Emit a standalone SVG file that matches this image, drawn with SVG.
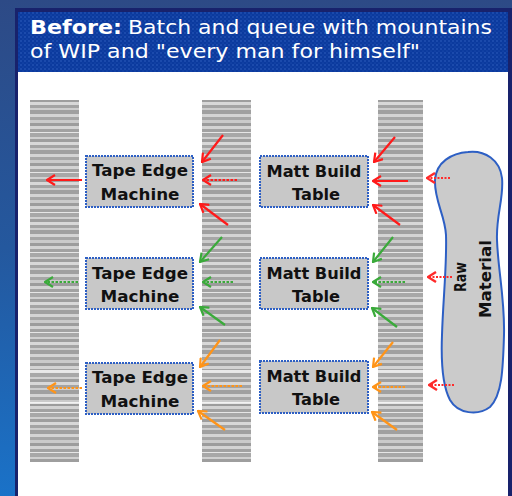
<svg xmlns="http://www.w3.org/2000/svg" width="512" height="496" viewBox="0 0 512 496">
<defs>
<linearGradient id="bg" x1="0" y1="0" x2="0" y2="1">
<stop offset="0" stop-color="#2d4a86"/>
<stop offset="0.5" stop-color="#24589e"/>
<stop offset="1" stop-color="#1a72c8"/>
</linearGradient>
<pattern id="dots" width="4" height="4" patternUnits="userSpaceOnUse">
<rect width="4" height="4" fill="#0b3a9e"/>
<circle cx="1" cy="1" r="0.7" fill="#3566c4"/>
<circle cx="3" cy="3" r="0.6" fill="#2452b4"/>
</pattern>
<pattern id="stripes" width="60" height="40" patternUnits="userSpaceOnUse">
<rect y="0" width="60" height="3" fill="#cacaca"/>
<rect y="3" width="60" height="3" fill="#9c9c9c"/>
<rect y="6" width="60" height="3" fill="#d3d3d3"/>
<rect y="9" width="60" height="3" fill="#a2a2a2"/>
<rect y="12" width="60" height="1" fill="#e6e6e6"/>
<rect y="13" width="60" height="4" fill="#a8a8a8"/>
<rect y="17" width="60" height="2" fill="#d0d0d0"/>
<rect y="19" width="60" height="3" fill="#9e9e9e"/>
<rect y="22" width="60" height="3" fill="#d8d8d8"/>
<rect y="25" width="60" height="3" fill="#a4a4a4"/>
<rect y="28" width="60" height="2" fill="#cdcdcd"/>
<rect y="30" width="60" height="4" fill="#a0a0a0"/>
<rect y="34" width="60" height="3" fill="#d4d4d4"/>
<rect y="37" width="60" height="3" fill="#a6a6a6"/>
</pattern>
<marker id="hr" viewBox="0 0 10 12" refX="9" refY="6" markerWidth="10" markerHeight="12" markerUnits="userSpaceOnUse" orient="auto">
<path d="M1,1 L9,6 L1,11" fill="none" stroke="#ff1a1a" stroke-width="2.2"/>
</marker>
<marker id="hg" viewBox="0 0 10 12" refX="9" refY="6" markerWidth="10" markerHeight="12" markerUnits="userSpaceOnUse" orient="auto">
<path d="M1,1 L9,6 L1,11" fill="none" stroke="#3aaa3a" stroke-width="2.2"/>
</marker>
<marker id="ho" viewBox="0 0 10 12" refX="9" refY="6" markerWidth="10" markerHeight="12" markerUnits="userSpaceOnUse" orient="auto">
<path d="M1,1 L9,6 L1,11" fill="none" stroke="#ff9418" stroke-width="2.2"/>
</marker>
<marker id="hrs" viewBox="0 0 10 12" refX="9" refY="6" markerWidth="10" markerHeight="12" markerUnits="userSpaceOnUse" orient="auto">
<path d="M1,1 L9,6 L1,11" fill="none" stroke="#ff2a2a" stroke-width="2.4"/>
</marker>
<style>
.stack{fill:url(#stripes);}
.gap{stroke:#ffffff;stroke-width:1.5;}
.box{fill:#c8c8c8;stroke:#2d5fc4;stroke-width:2;stroke-dasharray:2 1;}
.lbl{font-family:"DejaVu Sans",Verdana,sans-serif;font-weight:bold;font-size:16px;fill:#111111;text-anchor:middle;}
.hdr{font-family:"DejaVu Sans",Verdana,sans-serif;font-size:20px;fill:#ffffff;}
.r{stroke:#ff1a1a;stroke-width:2.2;fill:none;marker-end:url(#hr);}
.g{stroke:#3aaa3a;stroke-width:2.2;fill:none;marker-end:url(#hg);}
.o{stroke:#ff9418;stroke-width:2.2;fill:none;marker-end:url(#ho);}
.rs{stroke:#ff2a2a;stroke-width:2;fill:none;marker-end:url(#hrs);stroke-dasharray:2 1.5;}
.d{stroke-dasharray:2.5 1.5;}
</style>
</defs>

<rect x="0" y="0" width="512" height="496" fill="url(#bg)"/>
<rect x="15" y="8" width="497" height="488" fill="#18226c"/>
<rect x="18" y="12" width="490" height="60" fill="url(#dots)"/>
<rect x="18" y="72" width="490" height="424" fill="#ffffff"/>

<g id="header">
<text class="hdr" x="30" y="34" font-weight="bold" textLength="92" lengthAdjust="spacingAndGlyphs">Before:</text>
<text class="hdr" x="128" y="34" textLength="364" lengthAdjust="spacingAndGlyphs">Batch and queue with mountains</text>
<text class="hdr" x="30" y="58" textLength="390" lengthAdjust="spacingAndGlyphs">of WIP and "every man for himself"</text>
</g>

<g id="wip-stack-1">
<rect class="stack" x="30" y="100" width="49" height="362"/>
<line class="gap" x1="30" y1="371" x2="79" y2="371"/>
<line class="gap" x1="30" y1="403" x2="79" y2="403"/>
</g>
<g id="wip-stack-2">
<rect class="stack" x="202" y="100" width="49" height="362"/>
<line class="gap" x1="202" y1="371" x2="251" y2="371"/>
<line class="gap" x1="202" y1="403" x2="251" y2="403"/>
</g>
<g id="wip-stack-3">
<rect class="stack" x="378" y="100" width="45" height="362"/>
<line class="gap" x1="378" y1="371" x2="423" y2="371"/>
<line class="gap" x1="378" y1="403" x2="423" y2="403"/>
</g>

<g id="tape-edge-1">
<rect class="box" x="86" y="156" width="107" height="51"/>
<text class="lbl" x="140" y="176" textLength="96" lengthAdjust="spacingAndGlyphs">Tape Edge</text>
<text class="lbl" x="140" y="200" textLength="79" lengthAdjust="spacingAndGlyphs">Machine</text>
</g>
<g id="tape-edge-2">
<rect class="box" x="86" y="258" width="107" height="51"/>
<text class="lbl" x="140" y="279" textLength="96" lengthAdjust="spacingAndGlyphs">Tape Edge</text>
<text class="lbl" x="140" y="302" textLength="79" lengthAdjust="spacingAndGlyphs">Machine</text>
</g>
<g id="tape-edge-3">
<rect class="box" x="86" y="363" width="107" height="51"/>
<text class="lbl" x="140" y="383" textLength="96" lengthAdjust="spacingAndGlyphs">Tape Edge</text>
<text class="lbl" x="140" y="407" textLength="79" lengthAdjust="spacingAndGlyphs">Machine</text>
</g>

<g id="matt-build-1">
<rect class="box" x="260" y="156" width="108" height="51"/>
<text class="lbl" x="314" y="177" textLength="95" lengthAdjust="spacingAndGlyphs">Matt Build</text>
<text class="lbl" x="316" y="200" textLength="48" lengthAdjust="spacingAndGlyphs">Table</text>
</g>
<g id="matt-build-2">
<rect class="box" x="260" y="258" width="108" height="51"/>
<text class="lbl" x="314" y="279" textLength="95" lengthAdjust="spacingAndGlyphs">Matt Build</text>
<text class="lbl" x="316" y="302" textLength="48" lengthAdjust="spacingAndGlyphs">Table</text>
</g>
<g id="matt-build-3">
<rect class="box" x="260" y="361" width="108" height="52"/>
<text class="lbl" x="314" y="382" textLength="95" lengthAdjust="spacingAndGlyphs">Matt Build</text>
<text class="lbl" x="316" y="405" textLength="48" lengthAdjust="spacingAndGlyphs">Table</text>
</g>

<g id="raw-material">
<path d="M468,152 C485,150 500,160 502,178 C504,198 496,215 497,240 C498,270 505,300 504,335 C503,370 502,395 490,407 C478,416 458,414 450,400 C442,385 441,360 442,335 C443,300 447,265 446,235 C445,215 434,200 435,180 C436,162 452,153 468,152 Z" fill="#cbcbcb" stroke="#2d5fc4" stroke-width="2"/>
<text class="lbl" transform="translate(466,277) rotate(-90)" textLength="30" lengthAdjust="spacingAndGlyphs">Raw</text>
<text class="lbl" transform="translate(491,279) rotate(-90)" textLength="78" lengthAdjust="spacingAndGlyphs">Material</text>
</g>

<g id="connectors">
<line class="r" x1="82" y1="180" x2="47" y2="180"/>
<line class="r" x1="223" y1="135" x2="202" y2="162"/>
<line class="r d" x1="237" y1="180" x2="203" y2="180"/>
<line class="r" x1="228" y1="225" x2="200" y2="204"/>
<line class="r" x1="395" y1="137" x2="374" y2="162"/>
<line class="r" x1="408" y1="181" x2="373" y2="181"/>
<line class="r" x1="400" y1="225" x2="373" y2="205"/>
<line class="rs" x1="450" y1="178" x2="427" y2="178"/>
<line class="rs" x1="452" y1="277" x2="428" y2="277"/>
<line class="rs" x1="454" y1="385" x2="429" y2="385"/>

<line class="g d" x1="78" y1="282" x2="45" y2="282"/>
<line class="g" x1="222" y1="237" x2="200" y2="262"/>
<line class="g d" x1="233" y1="282" x2="203" y2="282"/>
<line class="g" x1="225" y1="325" x2="200" y2="307"/>
<line class="g" x1="393" y1="237" x2="373" y2="262"/>
<line class="g d" x1="405" y1="282" x2="373" y2="282"/>
<line class="g" x1="397" y1="327" x2="372" y2="308"/>

<line class="o d" x1="82" y1="388" x2="48" y2="388"/>
<line class="o" x1="220" y1="340" x2="200" y2="367"/>
<line class="o d" x1="242" y1="386" x2="203" y2="386"/>
<line class="o" x1="225" y1="430" x2="198" y2="411"/>
<line class="o" x1="393" y1="342" x2="373" y2="367"/>
<line class="o d" x1="405" y1="387" x2="373" y2="387"/>
<line class="o" x1="397" y1="430" x2="372" y2="412"/>
</g>
</svg>
